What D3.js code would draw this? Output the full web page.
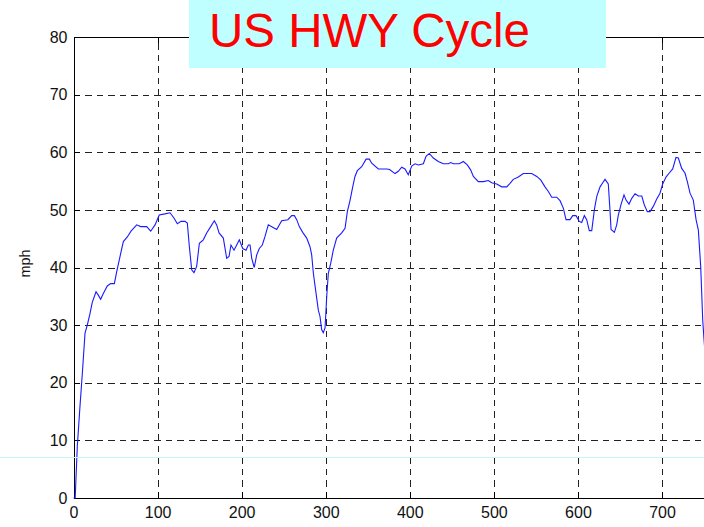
<!DOCTYPE html>
<html>
<head>
<meta charset="utf-8">
<script src="https://cdn.jsdelivr.net/npm/d3@7"></script>
<style>
  body { margin: 0; background: #fff; }
  svg { display: block; font-family: "Liberation Sans", Arial, sans-serif; }
  .grid line { stroke: #222; stroke-dasharray: 6.5 5; shape-rendering: crispEdges; }
  .grid path { display: none; }
  .axis path, .axis line { stroke: #000; shape-rendering: crispEdges; }
  .axis text { font-size: 16px; fill: #111; }
</style>
</head>
<body>
<svg id="chart" width="704" height="527"></svg>
<script>
// HWFET drive cycle (seconds, mph)
const timeSec = [
  0, 2, 4.5, 7.7, 10.5, 13.7, 16.4, 19.6, 22.4, 26.8, 29.5, 32.3, 35.5, 40.2, 44.2, 48.6,
  51.4, 55.3, 59.3, 64, 68.4, 75.2, 79.9, 87.1, 91.8, 97, 102, 108.8, 114.8, 119.5, 123.5,
  127.9, 132.6, 135.4, 137.8, 140.6, 143.3, 146.5, 149.7, 154.4, 158.4, 163.2, 167.5, 170.3,
  173.1, 178.2, 182.2, 185, 187.3, 190.9, 194.1, 197.2, 201.3, 205.2, 208, 210, 212, 215,
  217.9, 221, 224.6, 227.8, 231.7, 236.9, 241.7, 247.6, 255, 259.5, 262.7, 265.5, 268.6,
  272.6, 277.4, 281.3, 283.3, 285.3, 288.5, 291.2, 293.2, 295.2, 297.1, 299.2, 301.2, 303.1,
  305.9, 309, 313, 319, 323, 325.7, 329, 332.1, 334.8, 337.6, 342.8, 348, 351.9, 354.7,
  362.6, 372.6, 376, 382.4, 386.3, 390.4, 394.3, 398.2, 402.3, 406.2, 410.1, 416.1, 419.3,
  423.2, 428, 433.9, 439.9, 445.8, 448.7, 451.8, 458.9, 463.7, 468.4, 472.5, 475.6, 481.5,
  487.5, 493.4, 497.4, 503.4, 509.3, 515.3, 519.2, 523.1, 529.1, 535, 545, 551, 555.7,
  560.8, 564.8, 568.8, 574.7, 578.7, 582.6, 585.8, 590.6, 593.8, 597.7, 601.6, 604.5, 607.6,
  610.4, 613.5, 616.4, 619.5, 622.3, 626.3, 629.5, 632.2, 636.1, 638.2, 639.4, 643.3, 646.1,
  648, 651.2, 654.8, 657.2, 660.7, 664, 667.9, 671.8, 675.9, 678.9, 682.5, 685.7, 689.6,
  693.7, 697.6, 700.8, 704.7, 708.6, 712.7, 716.6, 719.4, 723.4, 727.3, 730.1, 733.3, 737.2,
  740.5, 743.2, 746, 748.4, 750, 755, 760, 765
];
const speedMph = [
  0, 0, 8.9, 15.9, 21.6, 28.6, 30, 32, 34, 35.8, 35.2, 34.5, 35.5, 36.8, 37.2, 37.2,
  39.3, 41.9, 44.5, 45.3, 46.3, 47.4, 47.1, 47.1, 46.3, 47.4, 49.1, 49.3, 49.5, 48.6, 47.6,
  48, 48, 47.7, 43.6, 39.6, 39.1, 40.2, 44.2, 44.8, 46, 47.1, 48.1, 47.4,
  46, 45.1, 41.6, 41.9, 43.9, 43, 43.9, 44.8, 43.3, 43, 43.9, 43.9, 41.6, 40,
  42.2, 43.3, 43.9, 45.4, 47.4, 47, 46.6, 48.1, 48.3, 49, 49, 48.3, 47.1,
  46.1, 45.1, 43.6, 42.2, 39, 35.5, 32.6, 31.5, 29.2, 28.7, 29.5, 35, 39,
  40.7, 43, 45.1, 46, 46.8, 49.7, 51.7, 54, 55.8, 56.8, 57.5, 58.8, 58.8, 58.1,
  57.1, 57.1, 57, 56.3, 56.7, 57.4, 57.1, 56.1, 57.6, 58, 57.8, 58, 59.3,
  59.8, 59, 58.4, 58, 58, 58.2, 58, 58, 58.4, 57.8, 56.9, 55.8, 54.9,
  54.9, 55.1, 54.7, 54.5, 54, 54, 54.6, 55.3, 55.7, 56.3, 56.3, 55.8, 55.2,
  54, 53.2, 52.2, 52.2, 51.6, 50.3, 48.3, 48.3, 49, 49, 48, 47.8, 49,
  48.3, 46.4, 46.4, 50, 52.3, 54, 54.7, 55.3, 54.5, 49.7, 46.6, 46.1, 47.4,
  49.1, 50.9, 52.6, 51.7, 51, 52, 52.8, 52.4, 52.4, 50.9, 49.7, 49.7, 50.6,
  51.9, 52.9, 54.5, 55.7, 56.4, 57.1, 59.1, 59, 57.2, 56.4, 54.9, 52.9, 51.7,
  48.3, 46.5, 40.2, 30.9, 27.4, 18, 8, 0
];
// 800 sits beyond the visible edge, so it is left out
const xTicks = [0, 100, 200, 300, 400, 500, 600, 700];
const yTicks = [0, 10, 20, 30, 40, 50, 60, 70, 80];
const titleText = "US HWY Cycle";
const yLabelText = "mph";

const margin = { top: 37, left: 73.5 };
const width = 672.6;
const height = 461;

const data = timeSec.map((t, i) => ({ t, v: speedMph[i] }));

const svg = d3.select("#chart");
const g = svg.append("g").attr("transform", `translate(${margin.left},${margin.top})`);

const xScale = d3.scaleLinear().domain([0, 800]).range([0, width]);
const yScale = d3.scaleLinear().domain([0, 80]).range([height, 0]);

// faint line left over from the slide background
svg.append("line")
  .attr("x1", 0).attr("x2", 704)
  .attr("y1", 457.5).attr("y2", 457.5)
  .attr("stroke", "#c6f6f8").attr("stroke-width", 1);

// dashed grid
g.append("g")
  .attr("class", "grid")
  .attr("transform", `translate(0,${height})`)
  .call(d3.axisBottom(xScale).tickValues(xTicks.slice(1)).tickSize(-height).tickFormat(""));

g.append("g")
  .attr("class", "grid")
  .call(d3.axisLeft(yScale).tickValues(yTicks.slice(1)).tickSize(-width).tickFormat(""));

// axes with inward ticks (matlab style)
g.append("g")
  .attr("class", "axis")
  .attr("transform", `translate(0,${height})`)
  .call(d3.axisBottom(xScale).tickValues(xTicks).tickSize(-6).tickPadding(9).tickSizeOuter(0));

g.append("g")
  .attr("class", "axis")
  .call(d3.axisLeft(yScale).tickValues(yTicks).tickSize(-6).tickPadding(6).tickSizeOuter(0));

g.append("g")
  .attr("class", "axis")
  .call(d3.axisTop(xScale).tickValues(xTicks).tickSize(-6).tickFormat("").tickSizeOuter(0));

g.append("text")
  .attr("transform", `translate(${-44},${height / 2 - 4}) rotate(-90)`)
  .attr("text-anchor", "middle")
  .attr("font-size", 14.5)
  .attr("fill", "#111")
  .text(yLabelText);

// speed trace
const line = d3.line().x((d) => xScale(d.t)).y((d) => yScale(d.v));
g.append("path")
  .datum(data)
  .attr("fill", "none")
  .attr("stroke", "#1a1aff")
  .attr("stroke-width", 1.1)
  .attr("d", line);

// title box
svg.append("rect")
  .attr("x", 189).attr("y", 0)
  .attr("width", 417).attr("height", 68)
  .attr("fill", "#c0ffff");

svg.append("text")
  .attr("x", 209)
  .attr("y", 47)
  .attr("font-size", 48)
  .attr("textLength", 321)
  .attr("lengthAdjust", "spacingAndGlyphs")
  .attr("fill", "#ff0000")
  .text(titleText);
</script>
</body>
</html>
